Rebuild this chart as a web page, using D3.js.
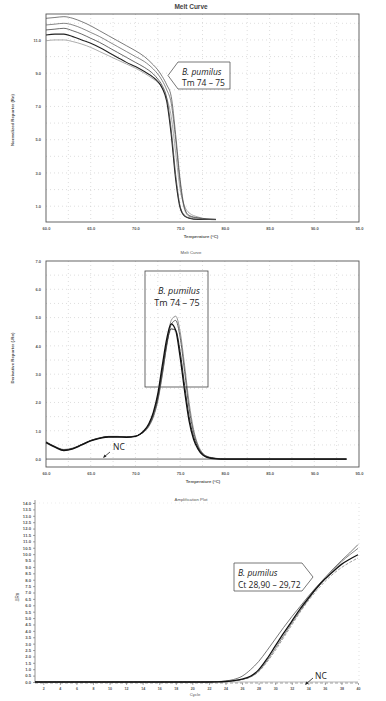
<!DOCTYPE html>
<html>
<head>
<meta charset="utf-8">
<script src="https://cdn.jsdelivr.net/npm/d3@7"></script>
<style>
  body { margin: 0; background: #fff; }
  svg { display: block; }
</style>
</head>
<body>
<div id="chart"></div>
<script>
// panel 1: normalized melt curve
const meltTemps = [60, 61, 62, 63, 64, 65, 66, 67, 68, 69, 70, 71, 72, 72.5, 73, 73.5, 74, 74.5, 75, 75.5, 76, 77, 78, 79];
const meltA = [12.3, 12.35, 12.4, 12.3, 12.1, 11.85, 11.55, 11.25, 10.95, 10.65, 10.35, 10.0, 9.5, 9.2, 8.8, 8.3, 7.6, 5.3, 2.6, 0.9, 0.45, 0.3, 0.25, 0.22];
const meltB = [11.9, 11.95, 12.0, 11.9, 11.7, 11.45, 11.2, 10.9, 10.6, 10.3, 10.0, 9.7, 9.25, 8.95, 8.55, 8.0, 7.2, 5.0, 2.4, 0.8, 0.4, 0.28, 0.22, 0.2];
const meltC = [11.6, 11.65, 11.7, 11.55, 11.35, 11.1, 10.85, 10.55, 10.25, 9.95, 9.65, 9.35, 8.95, 8.65, 8.25, 7.5, 5.6, 2.9, 1.0, 0.45, 0.3, 0.22, 0.2, 0.2];
const meltD = [11.3, 11.35, 11.35, 11.2, 11.0, 10.8, 10.55, 10.25, 9.95, 9.65, 9.4, 9.1, 8.75, 8.5, 8.1, 7.3, 5.3, 2.6, 0.9, 0.4, 0.28, 0.2, 0.2, 0.2];
const meltE = [10.95, 11.0, 11.0, 10.9, 10.75, 10.55, 10.3, 10.05, 9.8, 9.55, 9.3, 9.0, 8.65, 8.45, 8.1, 7.5, 6.4, 4.2, 2.0, 1.0, 0.6, 0.35, 0.22, 0.18];
const meltYTicks = [11, 9, 7, 5, 3, 1];

// panel 2: derivative melt curve
const derivTemps = [60, 61, 62, 63, 64, 65, 66, 67, 68, 69, 70, 70.5, 71, 71.5, 72, 72.5, 73, 73.5, 74, 74.5, 75, 75.5, 76, 76.5, 77, 77.5, 78, 79, 80, 93.6];
const deriv1 = [0.62, 0.45, 0.34, 0.39, 0.52, 0.66, 0.75, 0.8, 0.8, 0.79, 0.81, 0.87, 0.97, 1.15, 1.48, 2.05, 2.95, 4.05, 4.9, 5.05, 4.5, 3.3, 2.0, 1.05, 0.5, 0.22, 0.1, 0.03, 0, 0];
const deriv2 = [0.6, 0.44, 0.33, 0.38, 0.52, 0.66, 0.75, 0.8, 0.8, 0.79, 0.81, 0.87, 0.98, 1.18, 1.52, 2.1, 3.0, 4.0, 4.75, 4.9, 4.3, 3.1, 1.8, 0.95, 0.45, 0.2, 0.09, 0.02, 0, 0];
const deriv3 = [0.58, 0.42, 0.3, 0.36, 0.5, 0.64, 0.73, 0.78, 0.78, 0.77, 0.8, 0.88, 1.02, 1.25, 1.65, 2.3, 3.3, 4.25, 4.78, 4.55, 3.6, 2.4, 1.35, 0.7, 0.35, 0.15, 0.06, 0.01, 0, 0];
const deriv4 = [0.6, 0.43, 0.32, 0.37, 0.51, 0.65, 0.74, 0.79, 0.79, 0.78, 0.81, 0.88, 1.0, 1.22, 1.6, 2.2, 3.15, 4.1, 4.6, 4.55, 3.8, 2.6, 1.5, 0.8, 0.4, 0.18, 0.08, 0.02, 0, 0];
const derivNcTemps = [60, 93.6];
const derivNc = [0, 0];
const derivYTicks = [7, 6, 5, 4, 3, 2, 1, 0];
const tempTicks = [60, 65, 70, 75, 80, 85, 90, 95];

// panel 3: amplification plot
const cycles = d3.range(1, 41);
const ampA = [0, 0, 0, 0, 0, 0, 0, 0, 0, 0, 0, 0, 0, 0, 0, 0, 0, 0, 0, 0, 0, 0.01,
  0.03, 0.08, 0.2, 0.45, 0.95, 1.6, 2.45, 3.35, 4.25, 5.1, 5.9, 6.7, 7.45, 8.15, 8.85, 9.5, 10.1, 10.75];
const ampB = [0, 0, 0, 0, 0, 0, 0, 0, 0, 0, 0, 0, 0, 0, 0, 0, 0, 0, 0, 0, 0, 0,
  0.01, 0.04, 0.1, 0.22, 0.45, 0.95, 1.8, 2.8, 3.8, 4.75, 5.7, 6.55, 7.35, 8.05, 8.65, 9.2, 9.6, 9.95];
const ampC = [0, 0, 0, 0, 0, 0, 0, 0, 0, 0, 0, 0, 0, 0, 0, 0, 0, 0, 0, 0, 0, 0,
  0.01, 0.04, 0.1, 0.2, 0.4, 0.85, 1.65, 2.6, 3.6, 4.6, 5.55, 6.45, 7.3, 8.05, 8.75, 9.4, 9.95, 10.45];
const ampD = [0, 0, 0, 0, 0, 0, 0, 0, 0, 0, 0, 0, 0, 0, 0, 0, 0, 0, 0, 0, 0, 0,
  0.01, 0.03, 0.08, 0.18, 0.38, 0.8, 1.55, 2.45, 3.45, 4.45, 5.45, 6.35, 7.15, 7.85, 8.45, 8.95, 9.35, 9.7];
const ampNcCycles = [1, 40];
const ampNc = [0, 0];
const ampYTicks = d3.range(0, 29).map(i => i * 0.5);
const cycleTicks = d3.range(2, 41, 2);

const W = 386, H = 701;
const tickFont = "Liberation Sans, Arial, sans-serif";
const noteFont = "Open Sans, Noto Sans, sans-serif";

const svg = d3.select("#chart").append("svg")
    .attr("width", W)
    .attr("height", H)
    .attr("viewBox", `0 0 ${W} ${H}`);

const line = (x, y) => d3.line().x(d => x(d[0])).y(d => y(d[1])).curve(d3.curveMonotoneX);
const zipTo = (xs, ys) => xs.map((v, i) => [v, ys[i]]);

function styleAxis(g, size) {
    g.selectAll("path.domain").remove();
    g.selectAll("line").attr("stroke", "#666").attr("stroke-width", 0.6);
    g.selectAll("text")
        .attr("font-family", tickFont)
        .attr("font-weight", "bold")
        .attr("font-size", size)
        .attr("fill", "#555");
}

function grid(g, x, y, xs, ys, x0, x1, y0, y1) {
    g.selectAll(".vg").data(xs).enter().append("line")
        .attr("x1", d => x(d)).attr("x2", d => x(d))
        .attr("y1", y0).attr("y2", y1)
        .attr("stroke", "#c8c8c8").attr("stroke-width", 0.6)
        .attr("stroke-dasharray", "1,3");
    g.selectAll(".hg").data(ys).enter().append("line")
        .attr("x1", x0).attr("x2", x1)
        .attr("y1", d => y(d)).attr("y2", d => y(d))
        .attr("stroke", "#c8c8c8").attr("stroke-width", 0.6)
        .attr("stroke-dasharray", "1,3");
}

function label(txt, x, y, size, opts = {}) {
    const t = svg.append("text")
        .attr("x", x).attr("y", y)
        .attr("text-anchor", opts.anchor || "middle")
        .attr("font-family", opts.family || tickFont)
        .attr("font-size", size)
        .attr("font-weight", opts.weight || "normal")
        .attr("font-style", opts.style || "normal")
        .attr("fill", opts.fill || "#333")
        .text(txt);
    if (opts.rotate) t.attr("transform", `rotate(-90,${x},${y})`);
    return t;
}

// ---------- panel 1 ----------
const x1 = d3.scaleLinear().domain([60, 95]).range([46, 359]);
const y1 = d3.scaleLinear().domain([0.05, 12.56]).range([222, 14]);

const p1 = svg.append("g");
grid(p1, x1, y1, d3.range(62.5, 95, 2.5), d3.range(1, 13, 1), 46, 359, 14, 222);
p1.append("rect").attr("x", 46).attr("y", 14).attr("width", 313).attr("height", 208)
    .attr("fill", "none").attr("stroke", "#555").attr("stroke-width", 0.9);

p1.append("g").attr("transform", "translate(46,0)")
    .call(d3.axisLeft(y1).tickValues(meltYTicks).tickFormat(d3.format(".1f")).tickSize(0).tickPadding(5))
    .call(g => styleAxis(g, 4));
p1.append("g").attr("transform", "translate(0,222)")
    .call(d3.axisBottom(x1).tickValues(tempTicks).tickFormat(d3.format(".1f")).tickSize(0).tickPadding(5))
    .call(g => styleAxis(g, 4));

const meltSeries = [meltE, meltD, meltC, meltB, meltA];
const meltStroke = ["#888", "#222", "#444", "#555", "#444"];
const meltWidth = [0.7, 1.1, 0.8, 0.7, 0.7];
p1.selectAll(".melt").data(meltSeries).enter().append("path")
    .attr("d", d => line(x1, y1)(zipTo(meltTemps, d)))
    .attr("fill", "none")
    .attr("stroke", (d, i) => meltStroke[i])
    .attr("stroke-width", (d, i) => meltWidth[i]);

label("Melt Curve", 191, 9, 6.5, { weight: "bold", fill: "#444" });
label("Temperature (°C)", 201, 238, 4.3, { weight: "bold", fill: "#555" });
label("Normalized Reporter (Rn)", 14, 120, 4.3, { weight: "bold", fill: "#555", rotate: true });

// callout pointing left
p1.append("path")
    .attr("d", "M168,75.5 L178,62 L230,62 L230,89 L178,89 Z")
    .attr("fill", "#fff").attr("stroke", "#555").attr("stroke-width", 0.8);
label("B. pumilus", 182, 74.5, 8.5, { anchor: "start", family: noteFont, style: "italic", fill: "#222" });
label("Tm 74 – 75", 182, 85.5, 8.5, { anchor: "start", family: noteFont, fill: "#222" });

// ---------- panel 2 ----------
const x2 = d3.scaleLinear().domain([60, 95]).range([46, 359]);
const y2 = d3.scaleLinear().domain([-0.28, 7]).range([467, 261]);

const p2 = svg.append("g");
grid(p2, x2, y2, d3.range(62.5, 95, 2.5), d3.range(0.5, 7, 0.5), 46, 359, 261, 467);
p2.append("rect").attr("x", 46).attr("y", 261).attr("width", 313).attr("height", 206)
    .attr("fill", "none").attr("stroke", "#555").attr("stroke-width", 0.9);

p2.append("g").attr("transform", "translate(46,0)")
    .call(d3.axisLeft(y2).tickValues(derivYTicks).tickFormat(d3.format(".1f")).tickSize(0).tickPadding(5))
    .call(g => styleAxis(g, 4));
p2.append("g").attr("transform", "translate(0,467)")
    .call(d3.axisBottom(x2).tickValues(tempTicks).tickFormat(d3.format(".1f")).tickSize(0).tickPadding(5))
    .call(g => styleAxis(g, 4));

p2.append("path")
    .attr("d", line(x2, y2)(zipTo(derivNcTemps, derivNc)))
    .attr("fill", "none").attr("stroke", "#444").attr("stroke-width", 0.8);

const derivSeries = [deriv1, deriv2, deriv4, deriv3];
const derivStroke = ["#777", "#555", "#333", "#111"];
const derivWidth = [0.8, 0.9, 1.0, 1.3];
p2.selectAll(".deriv").data(derivSeries).enter().append("path")
    .attr("d", d => line(x2, y2)(zipTo(derivTemps, d)))
    .attr("fill", "none")
    .attr("stroke", (d, i) => derivStroke[i])
    .attr("stroke-width", (d, i) => derivWidth[i]);

label("Melt Curve", 191, 254, 4.3, { fill: "#555" });
label("Temperature (°C)", 203, 483, 4.3, { weight: "bold", fill: "#555" });
label("Derivative Reporter (-Rn)", 14, 358, 4.3, { weight: "bold", fill: "#555", rotate: true });

p2.append("rect").attr("x", 145).attr("y", 271).attr("width", 63).attr("height", 116)
    .attr("fill", "none").attr("stroke", "#444").attr("stroke-width", 0.8);
label("B. pumilus", 179, 294, 9, { family: noteFont, style: "italic", fill: "#222" });
label("Tm 74 – 75", 177, 306, 9, { family: noteFont, fill: "#222" });

label("NC", 119, 450, 8.5, { family: noteFont, fill: "#222" });
p2.append("line").attr("x1", 110).attr("y1", 452).attr("x2", 104).attr("y2", 457)
    .attr("stroke", "#222").attr("stroke-width", 0.8);
p2.append("path").attr("d", "M103,458 L104.5,454.5 L106.5,456.5 Z").attr("fill", "#222");

// ---------- panel 3 ----------
const x3 = d3.scaleLinear().domain([1, 40]).range([35, 358]);
const y3 = d3.scaleLinear().domain([0, 14]).range([682, 503]);

const p3 = svg.append("g");
p3.append("line").attr("x1", 359).attr("x2", 359).attr("y1", 503).attr("y2", 683)
    .attr("stroke", "#ccc").attr("stroke-width", 0.6).attr("stroke-dasharray", "1,3");
p3.append("line").attr("x1", 35).attr("x2", 359).attr("y1", 503).attr("y2", 503)
    .attr("stroke", "#e0e0e0").attr("stroke-width", 0.6).attr("stroke-dasharray", "1,3");
p3.append("line").attr("x1", 35).attr("x2", 359).attr("y1", 683).attr("y2", 683)
    .attr("stroke", "#777").attr("stroke-width", 0.7).attr("stroke-dasharray", "3,2");
p3.append("line").attr("x1", 35).attr("x2", 35).attr("y1", 500).attr("y2", 683)
    .attr("stroke", "#666").attr("stroke-width", 0.7);

p3.append("g").attr("transform", "translate(35,0)")
    .call(d3.axisLeft(y3).tickValues(ampYTicks).tickFormat(d3.format(".1f")).tickSize(2).tickPadding(2))
    .call(g => styleAxis(g, 4.2));
p3.append("g").attr("transform", "translate(0,683)")
    .call(d3.axisBottom(x3).tickValues(cycleTicks).tickSize(2).tickPadding(2))
    .call(g => styleAxis(g, 3.6));

p3.append("path")
    .attr("d", line(x3, y3)(zipTo(ampNcCycles, ampNc)))
    .attr("fill", "none").attr("stroke", "#999").attr("stroke-width", 0.7);

const ampSeries = [ampD, ampC, ampA, ampB];
const ampStroke = ["#888", "#666", "#555", "#111"];
const ampWidth = [0.8, 0.8, 0.8, 1.3];
const ampDash = ["3,1.5", null, null, null];
p3.selectAll(".amp").data(ampSeries).enter().append("path")
    .attr("d", d => line(x3, y3)(zipTo(cycles, d)))
    .attr("fill", "none")
    .attr("stroke", (d, i) => ampStroke[i])
    .attr("stroke-width", (d, i) => ampWidth[i])
    .attr("stroke-dasharray", (d, i) => ampDash[i]);

label("Amplification Plot", 191, 501, 4.3, { fill: "#555" });
label("Cycle", 195, 696, 4.3, { fill: "#555" });
label("ΔRn", 19, 597, 4.5, { fill: "#555", rotate: true });

// callout pointing right
p3.append("path")
    .attr("d", "M234,563 L302,563 L313,577 L302,591 L234,591 Z")
    .attr("fill", "#fff").attr("stroke", "#555").attr("stroke-width", 0.8);
label("B. pumilus", 238, 576, 8.5, { anchor: "start", family: noteFont, style: "italic", fill: "#222" });
label("Ct 28,90 – 29,72", 238, 588, 8.5, { anchor: "start", family: noteFont, fill: "#222" });

label("NC", 315, 679, 8.5, { anchor: "start", family: noteFont, fill: "#222" });
p3.append("line").attr("x1", 313).attr("y1", 678).attr("x2", 306).attr("y2", 684)
    .attr("stroke", "#222").attr("stroke-width", 0.8);
p3.append("path").attr("d", "M305,685 L306.5,681.5 L308.5,683.5 Z").attr("fill", "#222");
</script>
</body>
</html>
